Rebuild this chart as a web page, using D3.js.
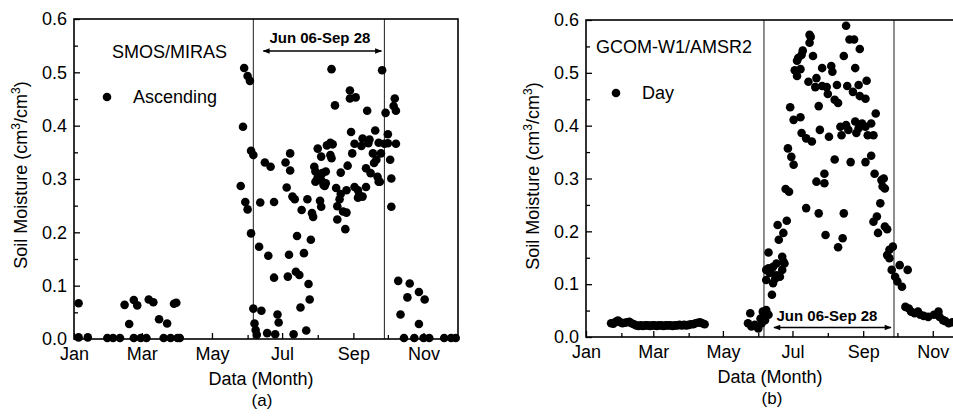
<!DOCTYPE html>
<html><head><meta charset="utf-8">
<script src="https://cdn.jsdelivr.net/npm/d3@7"></script>
<style>
body{margin:0;background:#fff}
svg{display:block}
text{font-family:"Liberation Sans",Arial,sans-serif;fill:#000}
</style>
</head><body>
<svg id="c" width="953" height="417"></svg>
<script>
// ---------- data ----------
const YEAR = 2013;
const monthLabels = ["Jan", "Mar", "May", "Jul", "Sep", "Nov"];
const majorMonths = [0, 2, 4, 6, 8, 10];
const minorMonths = [1, 3, 5, 7, 9];
const yTickValues = [0, 0.1, 0.2, 0.3, 0.4, 0.5, 0.6];
const yMinorValues = [0.05, 0.15, 0.25, 0.35, 0.45, 0.55];
const periodLabel = "Jun 06-Sep 28";
const periodStart = [5, 6];   // month index, day
const periodEnd = [8, 28];

// SMOS/MIRAS ascending: day offset from Jan 1, soil moisture
const smosDays = [4,4,12,29,34,40,44,48,52,52,55,58,63,65,69,74,78,81,84,87,89,90,92,
145,147,148,149,151,151,153,154,154,156,156,157,158,159,161,162,163,166,168,169,171,174,174,175,177,178,
184,185,186,187,188,188,190,191,192,193,194,196,197,198,200,202,203,204,205,206,207,208,209,210,210,
212,212,214,215,215,215,216,217,218,219,219,220,223,223,224,224,225,227,228,229,229,231,232,232,234,
236,237,237,238,240,240,241,242,244,244,245,247,247,248,250,251,251,254,254,255,256,257,258,260,261,
262,263,264,265,265,266,267,268,270,271,273,273,275,276,276,278,279,280,280,
282,284,287,290,292,296,300,300,304,305,309,322,328,332];
const smosValues = [.067,.003,.003,.002,.002,.002,.064,.028,.073,.002,.063,.002,.002,.074,.069,.037,.002,.029,.002,.066,.068,.002,.002,
.287,.398,.508,.257,.493,.243,.484,.353,.198,.345,.057,.029,.017,.008,.173,.256,.053,.331,.011,.156,.323,.257,.115,.009,.046,.031,
.331,.284,.117,.158,.348,.316,.267,.009,.262,.126,.193,.120,.059,.242,.161,.016,.262,.103,.074,.186,.236,.229,.323,.295,.314,
.303,.357,.259,.248,.298,.342,.311,.289,.287,.314,.292,.363,.368,.345,.339,.506,.365,.438,.283,.249,.224,.262,.312,.272,.239,
.206,.279,.237,.325,.466,.451,.388,.348,.366,.285,.453,.279,.265,.270,.362,.376,.267,.320,.285,.428,.367,.374,.311,.348,.330,
.391,.336,.304,.295,.368,.295,.348,.504,.366,.424,.384,.367,.336,.301,.248,.437,.451,.428,.366,
.109,.046,.002,.078,.104,.002,.088,.028,.002,.074,.002,.002,.002,.002];

// GCOM-W1/AMSR2 day: day offset from Jan 1, soil moisture
const amsrDays = [22,24,26,28,30,32,34,36,38,40,42,44,46,48,50,52,54,56,58,60,62,64,66,68,70,72,74,76,78,80,82,84,86,88,90,92,94,96,98,100,102,104,
142,144,145,148,151,153,154,155,156,157,158,160,
158,158,160,160,161,163,163,164,164,166,167,167,168,169,170,172,172,173,173,174,175,176,177,178,179,180,182,182,183,
185,185,186,188,188,189,189,190,193,193,195,196,196,197,198,199,201,202,202,204,204,205,207,207,209,209,210,211,212,213,
215,216,218,218,220,221,221,223,224,225,226,226,228,228,229,230,231,232,234,235,236,236,237,239,239,240,240,242,245,245,245,
246,247,250,250,252,252,253,254,255,256,258,259,260,261,262,262,264,264,266,266,268,269,271,273,275,277,282,
280,283,285,288,291,293,296,300,305,309,310,313,315,318,321];
const amsrValues = [.026,.025,.029,.031,.028,.026,.027,.028,.029,.026,.024,.022,.021,.022,.021,.022,.022,.021,.022,.022,.021,.022,.022,.021,.022,.022,.022,.021,.022,.022,.023,.022,.023,.022,.023,.024,.024,.026,.027,.028,.026,.024,
.026,.045,.020,.023,.016,.035,.026,.048,.038,.032,.051,.042,
.127,.108,.130,.160,.121,.130,.080,.102,.133,.111,.117,.139,.212,.184,.114,.127,.152,.143,.197,.139,.280,.220,.357,.275,.435,.341,.326,.411,.505,
.523,.494,.528,.507,.416,.534,.386,.542,.244,.376,.483,.572,.557,.568,.370,.532,.473,.490,.294,.437,.234,.392,.509,.475,.309,.291,.193,.473,.460,.379,
.513,.502,.336,.449,.477,.443,.170,.398,.382,.187,.532,.234,.589,.401,.475,.392,.563,.331,.464,.563,.408,.509,.386,.477,.395,.545,.456,.404,.398,.451,.331,
.485,.382,.404,.343,.382,.218,.309,.423,.228,.197,.253,.297,.285,.300,.281,.209,.204,.155,.165,.149,.127,.171,.114,.105,.136,.095,.127,
.057,.054,.048,.045,.048,.042,.040,.038,.042,.048,.038,.032,.030,.026,.028];

// ---------- drawing ----------
const svg = d3.select("#c");
const dayDate = d => new Date(YEAR, 0, 1 + d);
const monthDate = m => new Date(YEAR, m, 1);

const panels = [
  {left: 74, top: 19, width: 384, height: 320, days: smosDays, values: smosValues,
   title: "SMOS/MIRAS", legend: "Ascending", tag: "(a)",
   titlePos: [38, 39], legendDot: [33, 78], legendText: [59, 84],
   periodTextY: 0.555, periodArrowY: 0.54, ylabelX: 21, xlabelX: 187, tagX: 188},
  {left: 586, top: 20, width: 381, height: 317, days: amsrDays, values: amsrValues,
   title: "GCOM-W1/AMSR2", legend: "Day", tag: "(b)",
   titlePos: [10, 33], legendDot: [30, 73], legendText: [56, 79],
   periodTextY: 0.031, periodArrowY: 0.018, ylabelX: 533, xlabelX: 184, tagX: 186}
];

const defs = svg.append("defs");
defs.append("marker").attr("id", "arr").attr("viewBox", "0 0 10 10")
  .attr("refX", 9).attr("refY", 5).attr("markerWidth", 9).attr("markerHeight", 7)
  .attr("markerUnits", "userSpaceOnUse").attr("orient", "auto-start-reverse")
  .append("path").attr("d", "M0,1 L10,5 L0,9 Z").attr("fill", "#000");

panels.forEach(p => {
  const x = d3.scaleTime().domain([monthDate(0), monthDate(11)]).range([0, p.width]);
  const y = d3.scaleLinear().domain([0, 0.6]).range([p.height, 0]);
  const g = svg.append("g").attr("transform", `translate(${p.left},${p.top})`);

  // period lines
  const s = new Date(YEAR, periodStart[0], periodStart[1]);
  const e = new Date(YEAR, periodEnd[0], periodEnd[1]);
  [s, e].forEach(d => g.append("line").attr("x1", x(d)).attr("x2", x(d))
    .attr("y1", 0).attr("y2", p.height).attr("stroke", "#333").attr("stroke-width", 1.1));

  // axes (ticks inward)
  const xMaj = d3.axisBottom(x).tickValues(majorMonths.map(monthDate))
    .tickFormat((d, i) => monthLabels[i]).tickSize(-6).tickPadding(8);
  const xMin = d3.axisBottom(x).tickValues(minorMonths.map(monthDate))
    .tickFormat("").tickSize(-4);
  const yMaj = d3.axisLeft(y).tickValues(yTickValues).tickFormat(d3.format(".1f"))
    .tickSize(-6).tickPadding(7);
  const yMin = d3.axisLeft(y).tickValues(yMinorValues).tickFormat("").tickSize(-4);

  g.append("g").attr("transform", `translate(0,${p.height})`).call(xMaj);
  g.append("g").attr("transform", `translate(0,${p.height})`).call(xMin);
  g.append("g").call(yMaj);
  g.append("g").call(yMin);
  g.selectAll(".domain").remove();
  g.selectAll(".tick line").attr("stroke", "#000").attr("stroke-width", 1.3);
  g.selectAll(".tick text").attr("font-size", 18).attr("font-family", '"Liberation Sans",Arial,sans-serif').attr("fill", "#000");

  // frame
  g.append("rect").attr("x", 0).attr("y", 0).attr("width", p.width).attr("height", p.height)
    .attr("fill", "none").attr("stroke", "#000").attr("stroke-width", 1.6);

  // points
  g.append("g").selectAll("circle").data(p.days.map((d, i) => [d, p.values[i]]))
    .join("circle").attr("cx", d => x(dayDate(d[0]))).attr("cy", d => y(d[1]))
    .attr("r", 4.3).attr("fill", "#000");

  // period annotation
  const xs = x(s), xe = x(e);
  g.append("text").attr("x", (xs + xe) / 2 + (p.tag === "(a)" ? 1 : -2)).attr("y", y(p.periodTextY))
    .attr("text-anchor", "middle").attr("font-size", 15).attr("font-weight", "bold").text(periodLabel);
  g.append("line").attr("x1", xs + 10).attr("x2", xe - 3)
    .attr("y1", y(p.periodArrowY)).attr("y2", y(p.periodArrowY))
    .attr("stroke", "#000").attr("stroke-width", 1.6)
    .attr("marker-start", "url(#arr)").attr("marker-end", "url(#arr)");

  // title & legend
  g.append("text").attr("x", p.titlePos[0]).attr("y", p.titlePos[1]).attr("font-size", 18).text(p.title);
  g.append("circle").attr("cx", p.legendDot[0]).attr("cy", p.legendDot[1]).attr("r", 4.3).attr("fill", "#000");
  g.append("text").attr("x", p.legendText[0]).attr("y", p.legendText[1]).attr("font-size", 18).text(p.legend);

  // axis labels
  const yl = svg.append("text").attr("transform", `translate(${p.ylabelX},${p.top + 156}) rotate(-90)`)
    .attr("text-anchor", "middle").attr("dy", "0.35em").attr("font-size", 18);
  yl.append("tspan").text("Soil Moisture (cm");
  yl.append("tspan").attr("dy", -7).attr("font-size", 12).text("3");
  yl.append("tspan").attr("dy", 7).text("/cm");
  yl.append("tspan").attr("dy", -7).attr("font-size", 12).text("3");
  yl.append("tspan").attr("dy", 7).text(")");

  g.append("text").attr("x", p.xlabelX).attr("y", p.height + 46).attr("text-anchor", "middle")
    .attr("font-size", 18).text("Data (Month)");
  g.append("text").attr("x", p.tagX).attr("y", p.height + 67).attr("text-anchor", "middle")
    .attr("font-size", 17).attr("font-family", '"Liberation Serif","Times New Roman",serif').text(p.tag);
});
</script>
</body></html>
